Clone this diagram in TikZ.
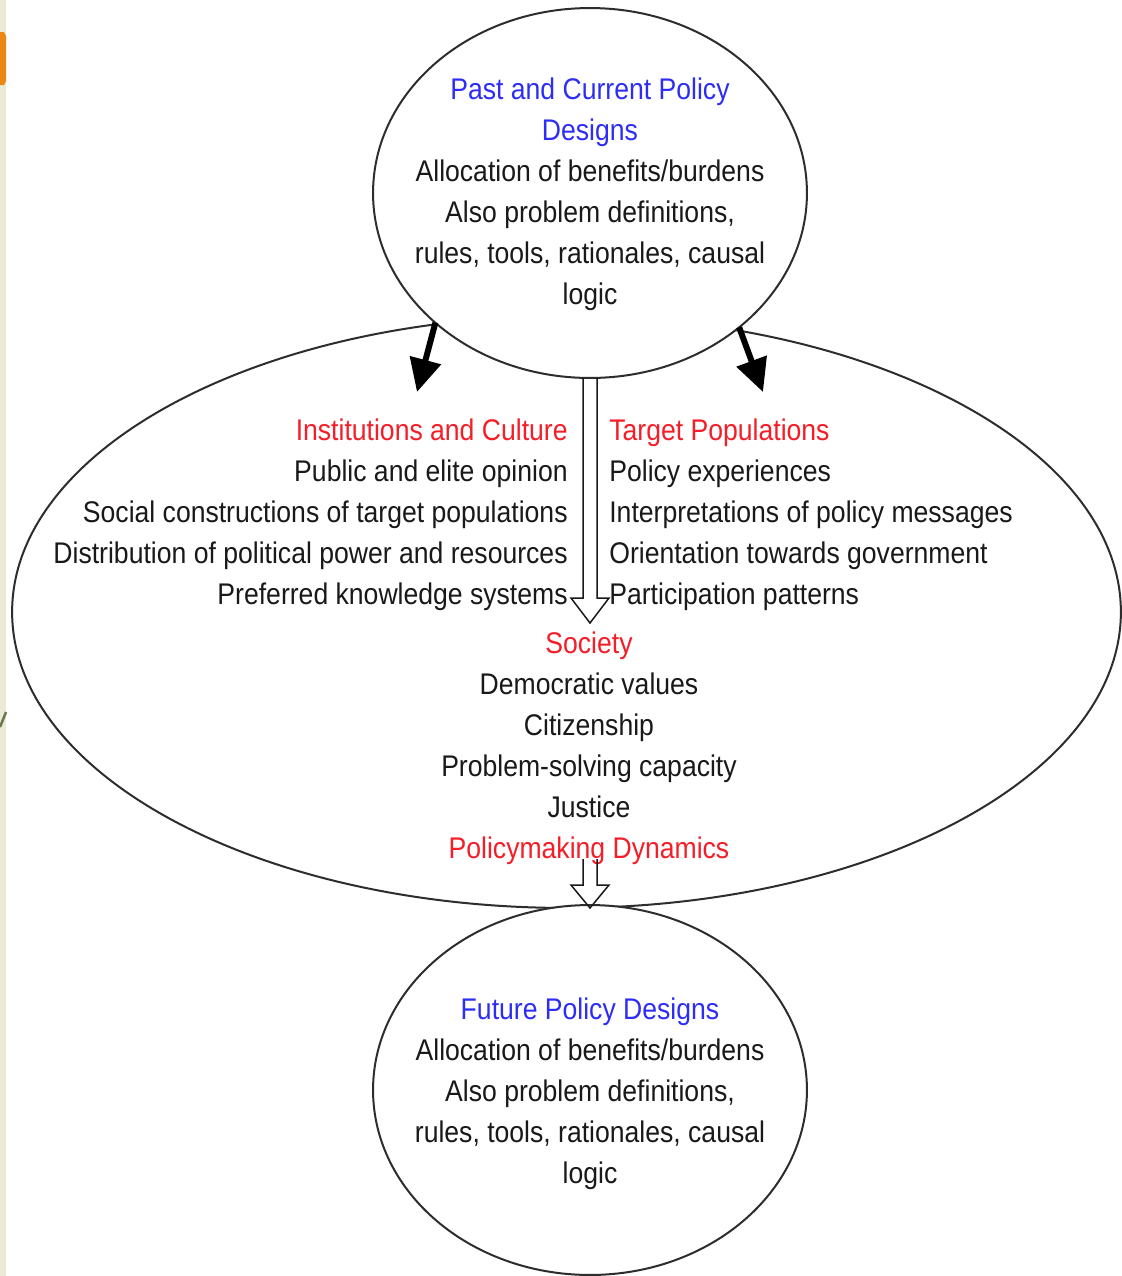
\documentclass[tikz,border=0pt]{standalone}
\usepackage{fontspec}
\setmainfont{Liberation Sans}[FakeStretch=0.89]
\usetikzlibrary{arrows.meta, shapes.geometric, calc}

\begin{document}
\begin{tikzpicture}[x=0.02cm, y=-0.02cm,
  ring/.style={draw=ring_color, line width=0.04cm, fill=white, ellipse, inner sep=0pt, outer sep=0pt},
  txt/.style={font=\fontsize{17}{23.3}\selectfont, text=text_color, inner sep=0pt},
  heavy_arrow/.style={draw=black, line width=0.12cm, -{Triangle[length=0.66cm, width=0.62cm]}},
  hollow_arrow/.style={draw=text_color, line width=0.03cm, line join=miter}]
\definecolor{ring_color}{RGB}{45,45,45}
\definecolor{text_color}{RGB}{25,25,25}
\definecolor{design_color}{RGB}{45,45,245}
\definecolor{topic_color}{RGB}{245,30,40}
\definecolor{strip_color}{RGB}{236,233,212}
\definecolor{tab_color}{RGB}{235,135,20}
\definecolor{stroke_color}{RGB}{110,120,80}

\useasboundingbox (0,0) rectangle (1122,1276);

\fill[strip_color] (0,0) rectangle (6,1276);
\fill[tab_color] (0,32) -- (4,32) -- (6,36) -- (6,81) -- (4,85) -- (0,85) -- cycle;
\draw[stroke_color, line width=0.05cm] (0,727) -- (6,712);

\node[ring, minimum width=22.18cm, minimum height=11.84cm] (dyn) at (566.5,612) {};
\node[ring, minimum width=8.68cm, minimum height=7.40cm] (past) at (590,193) {};
\node[ring, minimum width=8.68cm, minimum height=7.40cm] (future) at (590,1090) {};

\node[txt, align=center] (past_text) at (590,194.5) {{\color{design_color}Past and Current Policy}\\{\color{design_color}Designs}\\Allocation of benefits/burdens\\Also problem definitions,\\rules, tools, rationales, causal\\logic};

\node[txt, align=right, anchor=east] (inst) at (568,515) {{\color{topic_color}Institutions and Culture}\\Public and elite opinion\\Social constructions of target populations\\Distribution of political power and resources\\Preferred knowledge systems};

\node[txt, align=left, anchor=west] (target) at (609,515) {{\color{topic_color}Target Populations}\\Policy experiences\\Interpretations of policy messages\\Orientation towards government\\Participation patterns};

\node[txt, align=center] (society) at (589,748.5) {{\color{topic_color}Society}\\Democratic values\\Citizenship\\Problem-solving capacity\\Justice\\{\color{topic_color}Policymaking Dynamics}};

\node[txt, align=center] (future_text) at (590,1094) {{\color{design_color}Future Policy Designs}\\Allocation of benefits/burdens\\Also problem definitions,\\rules, tools, rationales, causal\\logic};

\coordinate (inst_tip) at (417,392);
\coordinate (target_tip) at (763,392);
\draw[heavy_arrow] (past.220) -- (inst_tip);
\draw[heavy_arrow] (past.318) -- (target_tip);

\coordinate (society_tip) at (590,623);
\draw[hollow_arrow] ($(past.south)+(-7,0)$) |- ($(society_tip)+(-19,-25)$) -- (society_tip) -- ($(society_tip)+(19,-25)$) -| ($(past.south)+(7,0)$);

\coordinate (dyn_tip) at (590,908);
\draw[hollow_arrow] ($(society.south -| dyn_tip)+(-7,-6)$) |- ($(dyn_tip)+(-19,-23)$) -- (dyn_tip) -- ($(dyn_tip)+(19,-23)$) -| ($(society.south -| dyn_tip)+(7,-6)$);

\end{tikzpicture}
\end{document}
